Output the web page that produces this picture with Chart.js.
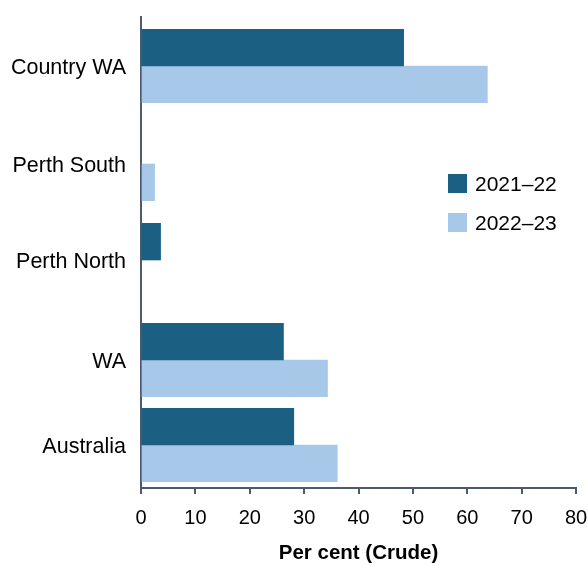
<!DOCTYPE html>
<html>
<head>
<meta charset="utf-8">
<script src="https://cdn.jsdelivr.net/npm/chart.js@4.4.1/dist/chart.umd.min.js"></script>
<style>
  body { margin: 0; background: #fff; }
  #wrap { position: relative; width: 588px; height: 566px; }
  #legend { position: absolute; left: 448px; top: 174px; font-family: "Liberation Sans", Arial, sans-serif; font-size: 21px; color: #000; }
  .item { display: flex; align-items: center; height: 19px; margin-bottom: 20px; }
  .sw { width: 19px; height: 19px; margin-right: 8px; }
</style>
</head>
<body>
<div id="wrap">
  <canvas id="chart" width="588" height="566"></canvas>
  <div id="legend"></div>
</div>
<script>
// Data
const categories = ['Country WA', 'Perth South', 'Perth North', 'WA', 'Australia'];
const series2122 = [48.3, null, 3.6, 26.2, 28.1];
const series2223 = [63.7, 2.5, null, 34.3, 36.1];
const seriesLabels = ['2021–22', '2022–23'];
const xTicks = [0, 10, 20, 30, 40, 50, 60, 70, 80];

// Rows are not evenly spaced in the original, so the category axis is a linear one
const rowCentre = [49, 147, 243, 343, 428];
const rowSpan = 471;

const dark = '#1b6082';
const light = '#a7c8e9';
const axisColour = '#4b5a6e';
const font = "'Liberation Sans', Arial, sans-serif";

const toPoints = vals => vals.map((v, i) => ({ y: rowCentre[i], x: v }));

const ctx = document.getElementById('chart').getContext('2d');
const chart = new Chart(ctx, {
    type: 'bar',
    data: {
        datasets: [{
            label: seriesLabels[0],
            data: toPoints(series2122),
            backgroundColor: dark
        }, {
            label: seriesLabels[1],
            data: toPoints(series2223),
            backgroundColor: light
        }]
    },
    options: {
        indexAxis: 'y',
        responsive: false,
        animation: false,
        barThickness: 36.7,
        layout: { padding: { top: 17, right: 0, left: 0, bottom: 0 } },
        plugins: {
            legend: { display: false },
            tooltip: { enabled: false }
        },
        scales: {
            y: {
                type: 'linear',
                reverse: true,
                offset: false,
                min: 0,
                max: rowSpan,
                grid: { display: false, drawTicks: false, tickLength: 0 },
                border: { display: true, color: axisColour, width: 2 },
                afterBuildTicks: scale => {
                    scale.ticks = rowCentre.map(v => ({ value: v }));
                },
                afterFit: scale => {
                    scale.width = 141;
                    scale.paddingTop = 0;
                    scale.paddingBottom = 0;
                },
                ticks: {
                    autoSkip: false,
                    padding: 15,
                    labelOffset: 2,
                    color: '#000',
                    font: { family: font, size: 21.5 },
                    callback: (value, index) => categories[index]
                }
            },
            x: {
                min: 0,
                max: 80,
                afterBuildTicks: scale => {
                    scale.ticks = xTicks.map(v => ({ value: v }));
                },
                afterFit: scale => {
                    scale.height = 78;
                    scale.paddingLeft = 0;
                    scale.paddingRight = 12;
                },
                grid: {
                    drawOnChartArea: false,
                    drawTicks: true,
                    tickLength: 6,
                    color: axisColour,
                    lineWidth: 2
                },
                border: { display: true, color: axisColour, width: 2 },
                ticks: {
                    padding: 12,
                    color: '#000',
                    maxRotation: 0,
                    font: { family: font, size: 20 }
                },
                title: {
                    display: true,
                    text: 'Per cent (Crude)',
                    color: '#000',
                    padding: { top: 0, bottom: 0 },
                    font: { family: font, size: 20.5, weight: 'bold' }
                }
            }
        }
    }
});

// Legend sits inside the plot area, so it is built as HTML over the canvas
const legend = document.getElementById('legend');
chart.data.datasets.forEach(ds => {
    const row = document.createElement('div');
    row.className = 'item';
    row.innerHTML = `<span class="sw" style="background:${ds.backgroundColor}"></span><span>${ds.label}</span>`;
    legend.appendChild(row);
});
</script>
</body>
</html>
